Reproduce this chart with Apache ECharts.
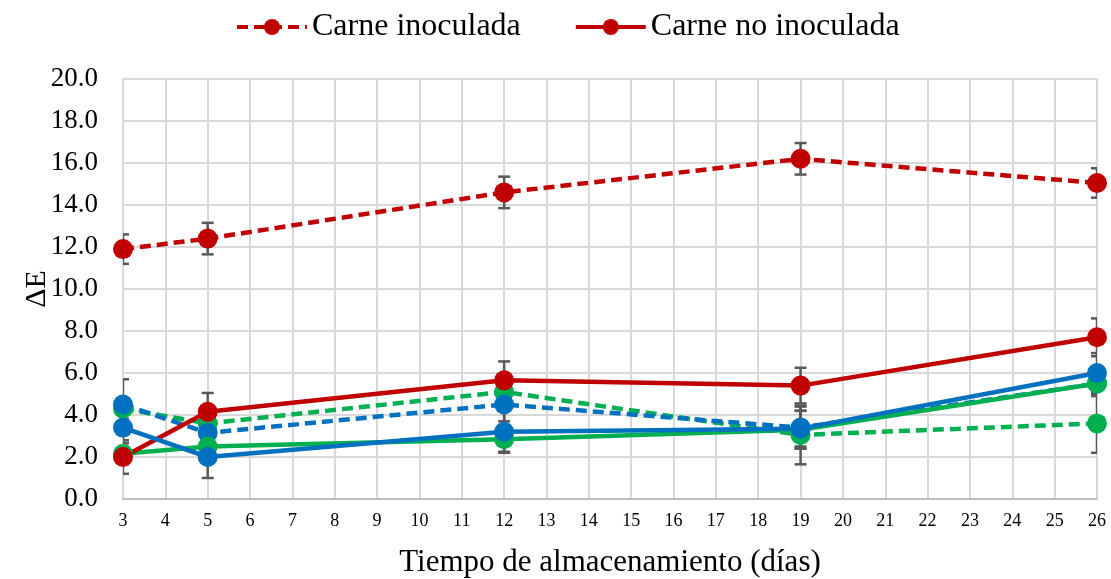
<!DOCTYPE html>
<html>
<head>
<meta charset="utf-8">
<script src="https://cdn.jsdelivr.net/npm/echarts@6/dist/echarts.min.js"></script>
<style>html,body{margin:0;padding:0;background:#fff}#c{width:1111px;height:579px}</style>
</head>
<body>
<div id="c"></div>
<script>
var days = [3, 5, 12, 19, 26];
var yTicks = [0, 20, 2];
var redInoc = [11.9, 12.4, 14.6, 16.2, 15.05];
var redInocErr = [0.7, 0.75, 0.75, 0.75, 0.7];
var redNoInoc = [2.0, 4.15, 5.65, 5.4, 7.7];
var redNoInocErr = [0.8, 0.9, 0.9, 0.85, 0.9];
var greenInoc = [4.3, 3.6, 5.1, 3.05, 3.6];
var greenInocErr = [0.5, 0.4, 0.5, 1.4, 1.4];
var blueInoc = [4.5, 3.15, 4.5, 3.4, 5.5];
var blueInocErr = [1.2, 0.4, 0.8, 1.0, 0.4];
var greenNoInoc = [2.15, 2.5, 2.85, 3.3, 5.5];
var greenNoInocErr = [0.5, 0.4, 0.6, 0.9, 0.6];
var blueNoInoc = [3.4, 2.0, 3.2, 3.35, 6.0];
var blueNoInocErr = [0.6, 1.0, 1.0, 0.85, 0.95];
var legendNames = ['Carne inoculada', 'Carne no inoculada'];

var RED = '#C00000', GREEN = '#00B050', BLUE = '#0070C0';
var FONT = 'Liberation Serif';

function pts(v) { return days.map(function (d, i) { return [d, v[i]]; }); }
function errs(v, e) { return days.map(function (d, i) { return [d, v[i] - e[i], v[i] + e[i]]; }); }

function lineSeries(name, vals, color, dashed) {
  return {
    name: name, type: 'line', data: pts(vals), z: 3,
    symbol: 'circle', symbolSize: 20,
    itemStyle: { color: color },
    lineStyle: { color: color, width: 4.5, type: dashed ? [11, 6] : 'solid' },
    emphasis: { disabled: true }, animation: false
  };
}
function errSeries(vals, e) {
  return {
    type: 'custom', data: errs(vals, e), z: 2, clip: true, animation: false,
    renderItem: function (params, api) {
      var x = api.value(0), lo = api.value(1), hi = api.value(2);
      var p1 = api.coord([x, lo]), p2 = api.coord([x, hi]);
      var w = 6;
      var st = { stroke: '#595959', lineWidth: 2.5 };
      return { type: 'group', children: [
        { type: 'line', shape: { x1: p1[0], y1: p1[1], x2: p2[0], y2: p2[1] }, style: st },
        { type: 'line', shape: { x1: p1[0] - w, y1: p1[1], x2: p1[0] + w, y2: p1[1] }, style: st },
        { type: 'line', shape: { x1: p2[0] - w, y1: p2[1], x2: p2[0] + w, y2: p2[1] }, style: st }
      ]};
    }
  };
}

var chart = echarts.init(document.getElementById('c'));
chart.setOption({
  backgroundColor: '#fff',
  animation: false,
  legend: {
    data: legendNames, top: 6, left: 230, itemWidth: 70, itemHeight: 20, itemGap: 53,
    lineStyle: { width: 4 },
    textStyle: { fontFamily: FONT, fontSize: 32, color: '#000' }
  },
  grid: { left: 123, right: 14, top: 79, bottom: 80, outerBoundsMode: 'none', containLabel: false },
  xAxis: {
    type: 'value', min: 3, max: 26, interval: 1,
    name: 'Tiempo de almacenamiento (días)', nameLocation: 'middle', nameGap: 48,
    nameMoveOverlap: false,
    nameTextStyle: { fontFamily: FONT, fontSize: 31, color: '#000' },
    axisLine: { show: true, lineStyle: { color: '#BFBFBF', width: 2 } },
    axisTick: { show: false },
    axisLabel: { fontFamily: FONT, fontSize: 18, color: '#000', margin: 13 },
    splitLine: { show: true, lineStyle: { color: '#D9D9D9', width: 2 } }
  },
  yAxis: {
    type: 'value', min: yTicks[0], max: yTicks[1], interval: yTicks[2],
    name: 'ΔE', nameLocation: 'middle', nameGap: 71, nameRotate: 90,
    nameMoveOverlap: false,
    nameTextStyle: { fontFamily: FONT, fontSize: 30, color: '#000' },
    axisLine: { show: true, lineStyle: { color: '#D9D9D9', width: 2 } },
    axisTick: { show: false },
    axisLabel: { fontFamily: FONT, fontSize: 27, color: '#000', margin: 25,
      formatter: function (v) { return v.toFixed(1); } },
    splitLine: { show: true, lineStyle: { color: '#D9D9D9', width: 2 } }
  },
  series: [
    errSeries(redInoc, redInocErr),
    errSeries(redNoInoc, redNoInocErr),
    errSeries(greenInoc, greenInocErr),
    errSeries(blueInoc, blueInocErr),
    errSeries(greenNoInoc, greenNoInocErr),
    errSeries(blueNoInoc, blueNoInocErr),
    lineSeries('Verde inoculada', greenInoc, GREEN, true),
    lineSeries('Azul inoculada', blueInoc, BLUE, true),
    lineSeries('Verde no inoculada', greenNoInoc, GREEN, false),
    lineSeries('Carne no inoculada', redNoInoc, RED, false),
    lineSeries('Azul no inoculada', blueNoInoc, BLUE, false),
    lineSeries('Carne inoculada', redInoc, RED, true)
  ]
});
</script>
</body>
</html>
